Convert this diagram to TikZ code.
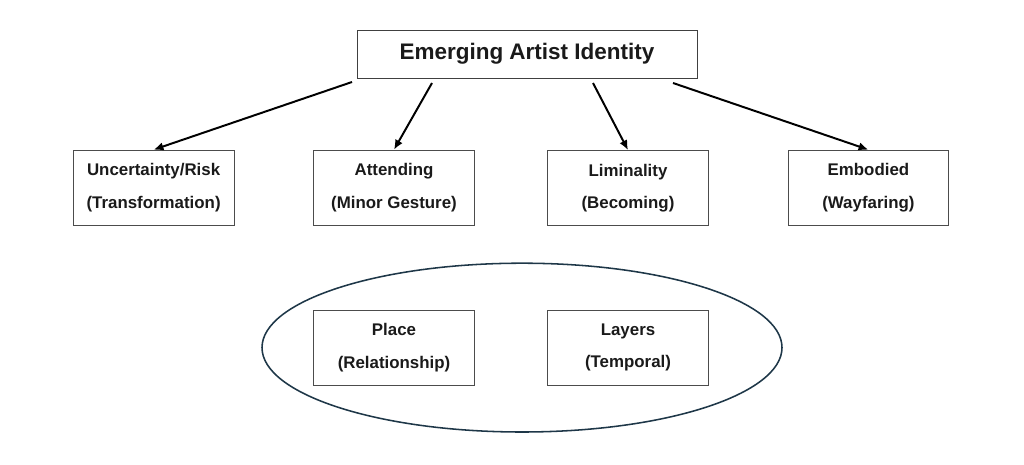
\documentclass[tikz,border=0pt]{standalone}
\usepackage{fontspec}
\setmainfont{Liberation Sans}
\usetikzlibrary{arrows.meta,shapes.geometric}
\definecolor{inkdark}{RGB}{26,26,26}
\definecolor{ringblue}{RGB}{30,55,72}
\tikzset{
  title box/.style={draw=black!75, line width=0.7pt, minimum width=8.5cm, minimum height=1.2cm, text=inkdark, font=\bfseries\fontsize{16}{19}\selectfont},
  theme box/.style={draw=black!70, line width=0.7pt, minimum width=4.02cm, minimum height=1.87cm, align=center, text=inkdark, font=\bfseries\fontsize{12}{23}\selectfont},
  ring/.style={ellipse, draw=ringblue, line width=1.1pt, minimum width=13cm, minimum height=4.22cm},
  link/.style={arrows={-Latex[length=7pt,width=6pt]}, line width=1.4pt, draw=black}
}

\begin{document}
\begin{tikzpicture}
  \useasboundingbox (0,0) rectangle (25.6,-11.6);

  \node[title box] at (13.175,-1.35) (identity) {Emerging Artist Identity};

  \node[theme box] at (3.84,-4.69) (risk) {Uncertainty/Risk\\(Transformation)};
  \node[theme box] at (9.85,-4.69) (attending) {Attending\\(Minor Gesture)};
  \node[theme box] at (15.7,-4.7) (liminality) {Liminality\\(Becoming)};
  \node[theme box] at (21.71,-4.69) (embodied) {Embodied\\(Wayfaring)};

  % grouped themes
  \node[ring] at (13.05,-8.69) (group) {};
  \node[theme box] at (9.85,-8.69) (place) {Place\\(Relationship)};
  \node[theme box] at (15.7,-8.69) (layers) {Layers\\(Temporal)};

  \coordinate (from risk) at (8.8,-2.05);
  \coordinate (from attending) at (10.8,-2.075);
  \coordinate (from liminality) at (14.825,-2.075);
  \coordinate (from embodied) at (16.825,-2.075);

  \draw[link] (from risk) -- (risk.north);
  \draw[link] (from attending) -- (attending.north);
  \draw[link] (from liminality) -- (liminality.north);
  \draw[link] (from embodied) -- (embodied.north);
\end{tikzpicture}
\end{document}
